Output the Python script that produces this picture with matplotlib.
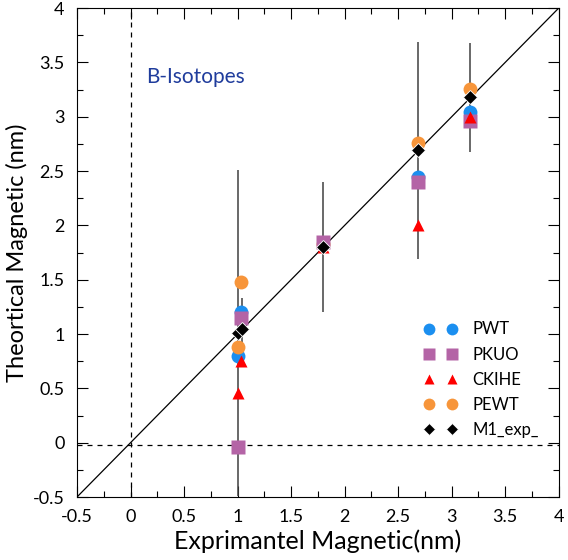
import matplotlib
matplotlib.use("Agg")
import matplotlib.pyplot as plt
from matplotlib.ticker import MultipleLocator

plt.rcParams['font.family'] = ['Lato', 'DejaVu Sans']

# Data
pwt_x = [1.0, 1.03, 2.69, 3.17]
pwt_y = [0.80, 1.20, 2.45, 3.04]
pkuo_x = [1.0, 1.03, 1.8, 2.69, 3.17]
pkuo_y = [-0.04, 1.15, 1.85, 2.40, 2.96]
ckihe_x = [1.0, 1.03, 1.8, 2.69, 3.17]
ckihe_y = [0.46, 0.75, 1.80, 2.00, 3.00]
pewt_x = [1.0, 1.03, 1.8, 2.69, 3.17]
pewt_y = [0.88, 1.48, 1.83, 2.76, 3.26]
exp_x = [1.0, 1.04, 1.8, 2.69, 3.17]
exp_y = [1.01, 1.05, 1.80, 2.69, 3.18]
exp_err = [1.5, 0.28, 0.6, 1.0, 0.5]

tick_vals = [-0.5, 0, 0.5, 1, 1.5, 2, 2.5, 3, 3.5, 4]
tick_labels = ['-0.5', '0', '0.5', '1', '1.5', '2', '2.5', '3', '3.5', '4']

fig = plt.figure(figsize=(5.68, 5.6), dpi=100)
ax = fig.add_axes([0.1356, 0.1125, 0.848, 0.873])

ax.plot([-0.5, 4], [-0.5, 4], color='black', lw=0.9, zorder=1)
ax.axvline(0, color='black', lw=0.9, ls=(0, (4, 4)), zorder=1)
ax.axhline(-0.02, color='black', lw=0.9, ls=(0, (4, 4)), zorder=1)

ax.errorbar(exp_x, exp_y, yerr=exp_err, fmt='none', ecolor='#404040', elinewidth=1.1, capsize=0, zorder=2)

ax.plot(pwt_x, pwt_y, 'o', color='#1b8ff0', ms=10, mec='none', label='PWT', zorder=3)
ax.plot(pkuo_x, pkuo_y, 's', color='#b464a6', ms=10, mec='none', label='PKUO', zorder=4)
ax.plot(ckihe_x, ckihe_y, '^', color='#ff0000', ms=9, mec='none', label='CKIHE', zorder=5)
ax.plot(pewt_x, pewt_y, 'o', color='#f7953a', ms=10, mec='none', label='PEWT', zorder=3)
ax.plot(exp_x, exp_y, 'D', color='black', ms=7, mec='white', mew=0.6, label='M1_exp_', zorder=6)

ax.set_xlim(-0.5, 4)
ax.set_ylim(-0.5, 4)
ax.set_xticks(tick_vals)
ax.set_xticklabels(tick_labels)
ax.set_yticks(tick_vals)
ax.set_yticklabels(tick_labels)
ax.xaxis.set_minor_locator(MultipleLocator(0.25))
ax.yaxis.set_minor_locator(MultipleLocator(0.25))
ax.tick_params(which='both', direction='in', top=True, right=True, labelsize=13)
ax.tick_params(which='major', length=8, width=0.8, pad=9)
ax.tick_params(which='minor', length=4, width=0.8)
for s in ax.spines.values():
    s.set_linewidth(0.8)

ax.set_xlabel('Exprimantel Magnetic(nm)', fontsize=18, labelpad=3)
ax.set_ylabel('Theortical Magnetic (nm)', fontsize=17, labelpad=3)

ax.text(0.15, 3.37, 'B-Isotopes', color='#1f3c9c', fontsize=15, va='center', ha='left')

ax.legend(loc='lower right', bbox_to_anchor=(0.99, 0.09), numpoints=2, frameon=False,
          fontsize=12, handlelength=2.0, labelspacing=0.55, markerscale=0.85, handletextpad=0.9)

fig.savefig('out.png', dpi=100)
